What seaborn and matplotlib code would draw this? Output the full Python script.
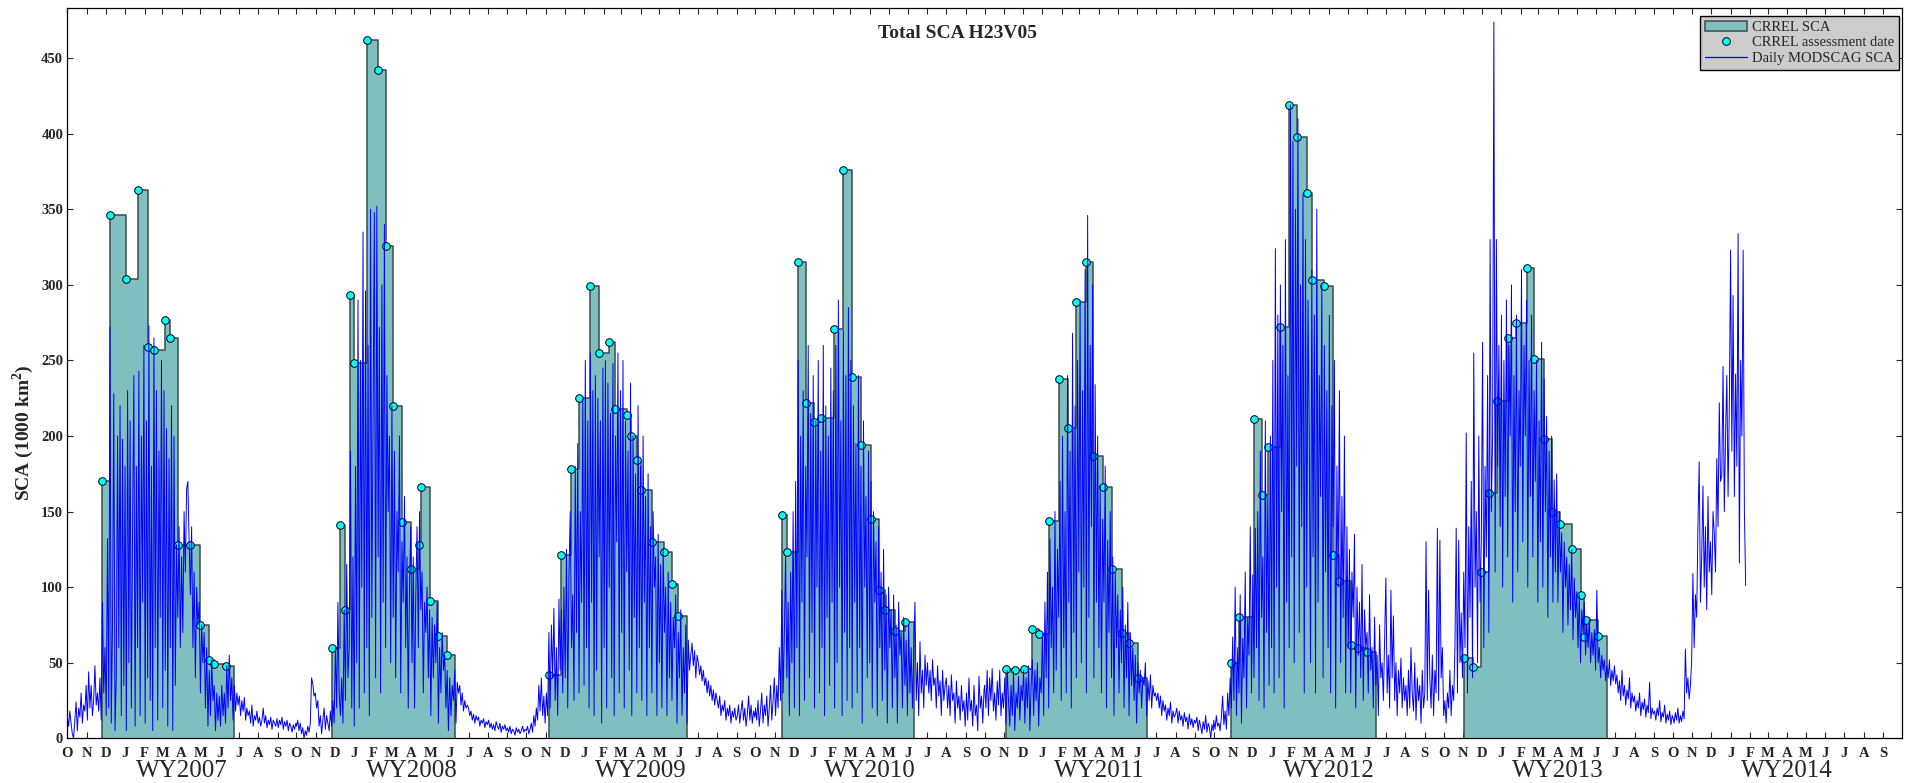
import numpy as np
import pandas as pd
import matplotlib
matplotlib.use("Agg")
import matplotlib.pyplot as plt
import matplotlib.dates as mdates
import matplotlib.transforms as mtransforms
from matplotlib.patches import Patch
from matplotlib.lines import Line2D
import seaborn as sns

# ---------------- DATA ----------------
water_years = [2007, 2008, 2009, 2010, 2011, 2012, 2013, 2014]

# CRREL assessments (date, SCA in 1000 km2) and end date of last step
crrel_2007_dates = ["2006-11-25", "2006-12-08", "2007-01-03", "2007-01-21", "2007-02-07", "2007-02-16",
                    "2007-03-05", "2007-03-14", "2007-03-27", "2007-04-14", "2007-05-01", "2007-05-15",
                    "2007-05-23", "2007-06-10"]
crrel_2007_vals = [170, 346, 304, 363, 259, 257, 277, 265, 128, 128, 75, 52, 49, 48]
crrel_2007_end = "2007-06-24"

crrel_2008_dates = ["2007-11-26", "2007-12-09", "2007-12-17", "2007-12-26", "2008-01-01", "2008-01-22",
                    "2008-02-08", "2008-02-20", "2008-03-02", "2008-03-17", "2008-04-01", "2008-04-13",
                    "2008-04-17", "2008-04-30", "2008-05-14", "2008-05-27"]
crrel_2008_vals = [60, 141, 85, 293, 248, 462, 442, 326, 220, 143, 112, 128, 166, 91, 68, 55]
crrel_2008_end = "2008-06-10"

crrel_2009_dates = ["2008-11-06", "2008-11-25", "2008-12-12", "2008-12-24", "2009-01-10", "2009-01-25",
                    "2009-02-10", "2009-02-19", "2009-03-10", "2009-03-16", "2009-03-27", "2009-04-01",
                    "2009-04-19", "2009-05-08", "2009-05-21", "2009-05-31"]
crrel_2009_vals = [42, 121, 178, 225, 299, 255, 262, 218, 214, 200, 184, 164, 130, 123, 102, 81]
crrel_2009_end = "2009-06-14"

crrel_2010_dates = ["2009-11-12", "2009-11-21", "2009-12-08", "2009-12-20", "2010-01-03", "2010-01-14",
                    "2010-02-03", "2010-02-18", "2010-03-04", "2010-03-18", "2010-04-03", "2010-04-15",
                    "2010-04-26", "2010-05-12", "2010-05-27"]
crrel_2010_vals = [148, 123, 315, 222, 209, 212, 271, 376, 239, 194, 145, 98, 85, 71, 77]
crrel_2010_end = "2010-06-10"

crrel_2011_dates = ["2010-11-04", "2010-11-18", "2010-12-02", "2010-12-16", "2010-12-26", "2011-01-12",
                    "2011-01-28", "2011-02-11", "2011-02-23", "2011-03-11", "2011-03-23", "2011-04-08",
                    "2011-04-22", "2011-05-07", "2011-05-19", "2011-06-02"]
crrel_2011_vals = [46, 45, 46, 72, 69, 144, 238, 205, 289, 315, 187, 166, 112, 70, 63, 40]
crrel_2011_end = "2011-06-16"

crrel_2012_dates = ["2011-10-29", "2011-11-10", "2011-12-04", "2011-12-16", "2011-12-27", "2012-01-14",
                    "2012-01-28", "2012-02-10", "2012-02-26", "2012-03-06", "2012-03-24", "2012-04-07",
                    "2012-04-18", "2012-05-06", "2012-05-18", "2012-06-01"]
crrel_2012_vals = [50, 80, 211, 161, 193, 272, 419, 398, 361, 303, 299, 121, 104, 62, 60, 57]
crrel_2012_end = "2012-06-16"

crrel_2013_dates = ["2012-11-02", "2012-11-16", "2012-11-29", "2012-12-12", "2012-12-25", "2013-01-12",
                    "2013-01-24", "2013-02-11", "2013-02-22", "2013-03-10", "2013-03-23", "2013-04-05",
                    "2013-04-23", "2013-05-07", "2013-05-13", "2013-05-16", "2013-06-04"]
crrel_2013_vals = [53, 47, 110, 162, 223, 265, 275, 311, 251, 198, 150, 142, 125, 95, 67, 78, 68]
crrel_2013_end = "2013-06-18"

# Daily MODSCAG SCA (read every 2nd day, starting Oct 1 of each water year)
modscag_2007 = [15, 8, 18, 10, 3, 0, 12, 24, 5, 20, 14, 30, 10, 22, 18, 35,
                12, 44, 20, 35, 15, 25, 48, 22, 30, 18, 40, 12, 90, 30, 60,
                15, 132, 20, 272, 10, 75, 228, 5, 40, 200, 60, 220, 15, 198, 35,
                180, 5, 230, 50, 210, 20, 140, 240, 8, 180, 60, 243, 15, 200, 90, 260,
                10, 210, 40, 273, 25, 180, 5, 265, 60, 230, 12, 190, 80, 250,
                20, 230, 45, 205, 8, 185, 60, 220, 5, 200, 35, 128, 80, 140, 60,
                120, 70, 150, 110, 165, 170, 130, 95, 140, 60, 110, 40, 100, 75, 90,
                30, 75, 50, 70, 20, 60, 8, 45, 15, 52, 25, 35, 5, 30, 12, 28,
                8, 35, 15, 30, 10, 48, 20, 55, 25, 40, 12, 35, 18, 30, 22,
                28, 15, 25, 18, 27, 12, 20, 15, 18, 10, 22, 8, 15, 12, 18,
                10, 14, 8, 12, 20, 10, 15, 7, 12, 9, 14, 6, 12, 10, 8, 13,
                7, 12, 9, 14, 6, 11, 8, 12, 5, 10, 8, 4, 9, 6, 10]
modscag_2008 = [8, 12, 5, 10, 3, 7, 0, 5, 2, 8, 4, 10, 40, 36, 28, 30,
                20, 25, 8, 15, 3, 12, 20, 6, 15, 10, 5, 18, 8, 25, 10,
                60, 20, 90, 30, 15, 40, 10, 85, 25, 115, 40, 60, 190, 20, 120,
                8, 180, 50, 290, 20, 250, 100, 335, 30, 296, 60, 260, 15, 350, 80, 220,
                348, 40, 352, 120, 272, 30, 300, 90, 340, 60, 240, 150, 200, 50,
                220, 80, 190, 40, 150, 110, 200, 30, 130, 90, 160, 60, 120, 20, 100,
                140, 50, 120, 20, 95, 140, 60, 150, 85, 110, 30, 90, 70, 100, 40,
                85, 15, 80, 40, 75, 50, 90, 10, 60, 30, 70, 45, 55, 20, 45, 5,
                40, 15, 35, 25, 45, 10, 37, 30, 35, 22, 30, 18, 25, 20, 22,
                20, 15, 18, 12, 16, 10, 15, 12, 14, 8, 12, 10, 13, 7, 11,
                9, 12, 7, 10, 6, 9, 5, 11, 8, 6, 10, 4, 8, 6, 9, 5,
                7, 4, 8, 3, 6, 5, 2, 7, 4, 6, 3, 5, 8, 4, 6]
modscag_2009 = [5, 8, 3, 6, 10, 4, 15, 8, 20, 12, 35, 18, 40, 15, 28, 10,
                30, 15, 70, 20, 75, 40, 86, 25, 60, 15, 92, 45, 85, 30, 100,
                40, 125, 20, 110, 150, 60, 95, 25, 180, 70, 195, 30, 150, 90, 225,
                35, 250, 60, 210, 20, 255, 90, 230, 15, 240, 45, 225, 120, 210, 10, 245,
                60, 250, 20, 235, 100, 215, 40, 248, 15, 200, 130, 255, 30, 230,
                70, 250, 20, 210, 110, 190, 45, 235, 15, 200, 80, 175, 30, 220, 60,
                180, 25, 200, 90, 160, 15, 175, 60, 140, 30, 150, 100, 120, 15, 135,
                50, 115, 20, 125, 70, 100, 15, 110, 40, 90, 25, 80, 60, 95, 10, 70,
                40, 85, 15, 60, 30, 75, 10, 65, 45, 55, 63, 48, 58, 40, 55,
                50, 42, 48, 38, 45, 35, 40, 30, 38, 28, 35, 25, 32, 22, 30,
                25, 20, 28, 15, 22, 18, 25, 12, 20, 15, 22, 10, 18, 14, 20, 12,
                15, 22, 10, 18, 25, 12, 20, 8, 16, 28, 12, 22, 10, 18, 14]
modscag_2010 = [20, 12, 25, 8, 18, 30, 10, 22, 15, 28, 8, 20, 35, 12, 25, 40,
                15, 35, 20, 60, 25, 98, 30, 70, 120, 40, 90, 15, 110, 50, 150,
                20, 170, 60, 250, 15, 200, 90, 230, 25, 180, 120, 260, 40, 215, 70,
                240, 20, 210, 100, 250, 30, 190, 60, 260, 15, 220, 80, 200, 35, 245, 90,
                230, 20, 260, 50, 290, 100, 210, 15, 270, 70, 240, 25, 285, 60,
                250, 20, 220, 90, 195, 30, 240, 60, 180, 10, 210, 100, 160, 40, 190,
                50, 170, 20, 150, 90, 130, 15, 140, 60, 110, 25, 125, 45, 95, 10,
                100, 60, 85, 20, 95, 40, 75, 10, 90, 55, 70, 20, 80, 35, 65, 15,
                75, 30, 60, 20, 55, 90, 25, 50, 15, 64, 30, 45, 20, 55, 35,
                50, 30, 45, 25, 52, 35, 40, 20, 48, 28, 38, 15, 45, 25, 35,
                40, 20, 35, 15, 42, 25, 30, 10, 38, 20, 28, 12, 35, 18, 25, 8,
                30, 12, 40, 18, 25, 8, 35, 15, 22, 5, 41, 20, 28, 10, 32]
modscag_2011 = [35, 20, 45, 15, 40, 25, 46, 18, 30, 12, 38, 22, 45, 15, 30, 20,
                40, 10, 45, 25, 8, 35, 15, 44, 5, 30, 20, 41, 12, 35, 25,
                45, 10, 40, 20, 48, 5, 35, 52, 15, 45, 25, 50, 8, 40, 30,
                70, 15, 90, 40, 110, 20, 132, 60, 100, 30, 150, 45, 125, 80, 170, 25,
                200, 60, 150, 30, 240, 90, 190, 20, 268, 70, 220, 40, 250, 110,
                290, 50, 230, 100, 310, 30, 346, 80, 260, 140, 300, 40, 234, 90, 200,
                60, 167, 30, 145, 90, 180, 20, 131, 70, 150, 40, 120, 15, 110, 60,
                95, 30, 85, 50, 100, 20, 75, 40, 90, 15, 70, 35, 60, 25, 55, 10,
                50, 30, 45, 20, 40, 35, 50, 15, 38, 25, 42, 20, 35, 28, 30,
                25, 30, 20, 28, 15, 25, 18, 22, 12, 20, 15, 24, 10, 18, 14,
                16, 20, 10, 18, 12, 15, 8, 17, 11, 14, 6, 16, 9, 13, 7, 12,
                10, 14, 5, 12, 8, 3, 11, 6, 15, 4, 10, 7, 0, 9, 5]
modscag_2012 = [12, 6, 15, 8, 10, 5, 14, 28, 9, 18, 6, 30, 15, 40, 20, 67,
                25, 100, 15, 60, 30, 95, 10, 66, 40, 110, 20, 80, 55, 140, 30,
                108, 40, 139, 60, 150, 25, 190, 80, 120, 20, 210, 70, 160, 35, 200,
                60, 250, 30, 324, 100, 280, 40, 300, 150, 260, 20, 330, 90, 240, 60, 419,
                120, 395, 50, 350, 180, 410, 70, 300, 140, 360, 30, 330, 100, 290,
                200, 50, 310, 120, 280, 30, 350, 90, 240, 160, 300, 40, 260, 110, 230,
                60, 280, 30, 220, 140, 250, 20, 180, 100, 230, 50, 160, 80, 200, 30,
                140, 60, 125, 30, 110, 80, 135, 20, 100, 55, 90, 40, 115, 25, 85, 60,
                70, 30, 95, 45, 60, 20, 80, 35, 55, 15, 75, 40, 50, 25, 65,
                106, 30, 55, 20, 98, 40, 81, 25, 50, 15, 45, 30, 53, 20, 40,
                25, 35, 15, 45, 20, 60, 30, 18, 50, 12, 40, 25, 35, 10, 45, 20,
                30, 130, 25, 98, 40, 20, 55, 15, 45, 30, 139, 25, 131, 40, 60]
modscag_2013 = [15, 25, 10, 30, 20, 45, 15, 35, 25, 60, 139, 30, 131, 50, 83, 40,
                110, 60, 202, 30, 140, 80, 170, 40, 255, 100, 150, 50, 200, 90, 130,
                262, 60, 180, 120, 240, 70, 330, 150, 200, 474, 110, 330, 180, 260, 140,
                280, 100, 250, 160, 290, 120, 260, 200, 300, 90, 240, 150, 280, 110, 230, 180,
                310, 130, 260, 200, 290, 100, 250, 160, 280, 120, 230, 170, 250, 90,
                210, 130, 262, 100, 238, 150, 213, 80, 190, 120, 200, 90, 171, 110, 175,
                90, 150, 110, 136, 70, 130, 100, 120, 75, 115, 85, 125, 65, 106, 80,
                97, 60, 95, 50, 85, 70, 90, 55, 75, 60, 80, 50, 70, 55, 72, 45,
                98, 50, 60, 40, 55, 45, 52, 38, 48, 40, 52, 35, 45, 38, 48,
                36, 42, 30, 38, 25, 45, 28, 35, 22, 32, 26, 40, 20, 30, 24,
                28, 18, 25, 20, 30, 15, 24, 19, 26, 14, 22, 17, 37, 13, 20, 16,
                18, 12, 20, 15, 25, 11, 17, 14, 22, 10, 16, 12, 18, 9, 15]
modscag_2014 = [14, 10, 17, 12, 20, 10, 15, 11, 18, 13, 59, 30, 40, 26, 35, 51,
                109, 60, 95, 80, 140, 183, 90, 120, 167, 100, 140, 85, 160, 110, 130,
                95, 150, 136, 110, 185, 140, 222, 170, 174, 246, 150, 200, 240, 160, 220,
                323, 190, 293, 160, 241, 180, 334, 116, 250, 200, 323, 150, 101]

y_ticks = [0, 50, 100, 150, 200, 250, 300, 350, 400, 450]

# ---------------- STYLE ----------------
TEAL = "#80BFBF"
EDGE = "#3a4c4c"
BLUE = "#0000FF"

sns.set_style("ticks")
plt.rcParams["font.family"] = ["Liberation Serif", "DejaVu Serif"]
plt.rcParams["mathtext.fontset"] = "custom"
plt.rcParams["mathtext.rm"] = "Liberation Serif"
plt.rcParams["mathtext.bf"] = "Liberation Serif:bold"

W, H = 1905, 783
fig = plt.figure(figsize=(W / 100, H / 100), dpi=100)
ax = fig.add_axes([67.3 / W, 1 - 738.3 / H, (1902 - 67.3) / W, 730 / H])

crrel = [
    (crrel_2007_dates, crrel_2007_vals, crrel_2007_end),
    (crrel_2008_dates, crrel_2008_vals, crrel_2008_end),
    (crrel_2009_dates, crrel_2009_vals, crrel_2009_end),
    (crrel_2010_dates, crrel_2010_vals, crrel_2010_end),
    (crrel_2011_dates, crrel_2011_vals, crrel_2011_end),
    (crrel_2012_dates, crrel_2012_vals, crrel_2012_end),
    (crrel_2013_dates, crrel_2013_vals, crrel_2013_end),
]

all_dots_x, all_dots_y = [], []
for dates, vals, end in crrel:
    d = pd.to_datetime(dates + [end])
    v = vals + [vals[-1]]
    ax.fill_between(d, v, 0, step="post", facecolor=TEAL, edgecolor="none", zorder=1)
    ox = pd.to_datetime([dates[0]] + dates + [end, end])
    oy = [0] + vals + [vals[-1], 0]
    ax.plot(ox, oy, drawstyle="steps-post", color=EDGE, lw=1.1, zorder=2)
    all_dots_x += list(pd.to_datetime(dates))
    all_dots_y += vals

dots = pd.DataFrame({"date": all_dots_x, "sca": all_dots_y})
sns.scatterplot(data=dots, x="date", y="sca", ax=ax, color="#00FFFF", edgecolor="black",
                linewidth=0.7, s=30, zorder=3, legend=False)

series = [modscag_2007, modscag_2008, modscag_2009, modscag_2010, modscag_2011,
          modscag_2012, modscag_2013, modscag_2014]
frames = []
for wy, vals in zip(water_years, series):
    vals = vals[:183]
    dts = pd.date_range(f"{wy - 1}-10-01", periods=len(vals), freq="2D")
    frames.append(pd.DataFrame({"date": dts, "sca": vals}))
mod = pd.concat(frames, ignore_index=True)
sns.lineplot(data=mod, x="date", y="sca", ax=ax, color=BLUE, lw=0.7, zorder=4,
             estimator=None, legend=False)

# ---------------- AXES ----------------
x0, x1 = pd.Timestamp("2006-10-01"), pd.Timestamp("2014-10-01")
ax.set_xlim(x0, x1)
ax.set_ylim(0, 483)
months = pd.date_range("2006-10-01", "2014-09-01", freq="MS")
ax.set_xticks(months)
ax.set_xticklabels([m.strftime("%b")[0] for m in months])
ax.set_yticks(y_ticks)
ax.set_yticklabels([str(t) for t in y_ticks])
ax.set_xlabel("")
ax.set_ylabel("")
ax.tick_params(axis="both", direction="in", length=4, width=0.8, top=True, right=True,
               labelsize=10.5)
ax.tick_params(axis="x", pad=6)
ax.tick_params(axis="y", pad=3)
for lab in ax.get_xticklabels() + ax.get_yticklabels():
    lab.set_fontweight("bold")
for sp in ax.spines.values():
    sp.set_visible(True)
    sp.set_linewidth(0.9)
    sp.set_color("black")

trans = mtransforms.blended_transform_factory(ax.transData, ax.transAxes)
for wy in water_years:
    xc = mdates.date2num(pd.Timestamp(f"{wy}-04-01"))
    ax.text(xc, -0.0445, f"WY{wy}", transform=trans, ha="center", va="center",
            fontsize=18, clip_on=False)

ax.text((958 - 67.3) / 1834.7, 1 - (33 - 8.3) / 730, "Total SCA H23V05", transform=ax.transAxes,
        ha="center", va="center", fontsize=14, fontweight="bold")

fig.text(23.5 / W, 1 - 432.6 / H, r"SCA (1000 km$^{\mathbf{2}}$)", rotation=90,
         ha="center", va="center", fontsize=14, fontweight="bold")

handles = [
    Patch(facecolor=TEAL, edgecolor=EDGE, linewidth=1.1),
    Line2D([], [], marker="o", linestyle="none", markerfacecolor="#00FFFF",
           markeredgecolor="black", markeredgewidth=0.7, markersize=5.5),
    Line2D([], [], color=BLUE, lw=0.9),
]
leg = ax.legend(handles, ["CRREL SCA", "CRREL assessment date", "Daily MODSCAG SCA"],
                loc="upper right", bbox_to_anchor=(0.9984, 0.9899), borderaxespad=0,
                fontsize=10.5, frameon=True, fancybox=False, framealpha=1,
                facecolor="#CCCCCC", edgecolor="black", handlelength=2.9,
                handletextpad=0.3, labelspacing=0.15, borderpad=0.35)
leg.get_frame().set_linewidth(1.0)
leg.set_zorder(10)

fig.savefig("out.png", dpi=100)
